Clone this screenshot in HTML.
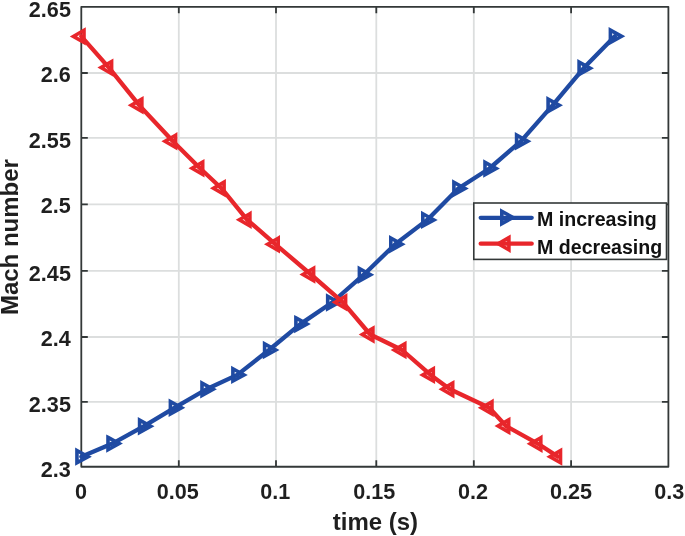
<!DOCTYPE html>
<html><head><meta charset="utf-8"><title>Mach number vs time</title>
<style>html,body{margin:0;padding:0;background:#fff;width:685px;height:536px;overflow:hidden}svg{display:block;will-change:transform}</style>
</head><body>
<svg width="685" height="536" viewBox="0 0 685 536">
<rect x="0" y="0" width="685" height="536" fill="#ffffff"/>
<path d="M178.8 6.8V466.75M276.0 6.8V466.75M376.3 6.8V466.75M473.8 6.8V466.75M571.1 6.8V466.75M81.3 73.0H668.4M81.3 137.9H668.4M81.3 204.4H668.4M81.3 270.8H668.4M81.3 337.0H668.4M81.3 401.9H668.4" stroke="#dcdede" stroke-width="1.8" fill="none"/>
<path d="M178.8 466.75V460.25M178.8 6.8V13.3M276.0 466.75V460.25M276.0 6.8V13.3M376.3 466.75V460.25M376.3 6.8V13.3M473.8 466.75V460.25M473.8 6.8V13.3M571.1 466.75V460.25M571.1 6.8V13.3M81.3 73.0H87.8M668.4 73.0H661.9M81.3 137.9H87.8M668.4 137.9H661.9M81.3 204.4H87.8M668.4 204.4H661.9M81.3 270.8H87.8M668.4 270.8H661.9M81.3 337.0H87.8M668.4 337.0H661.9M81.3 401.9H87.8M668.4 401.9H661.9" stroke="#333838" stroke-width="1.8" fill="none"/>
<rect x="81.3" y="6.8" width="587.1" height="459.95" fill="none" stroke="#333838" stroke-width="1.8" stroke-linejoin="round"/>
<polyline points="81.35,456.65 112.40,443.60 144.00,426.20 174.80,407.70 206.40,389.25 237.30,374.90 269.00,350.00 300.30,324.10 332.10,302.50 363.80,274.70 395.20,244.20 427.20,219.90 458.30,188.50 489.40,168.50 521.00,141.20 552.50,105.30 583.50,68.30 614.80,36.30" fill="none" stroke="#1f4aa2" stroke-width="4.3" stroke-linejoin="round" stroke-linecap="round"/>
<polygon points="76.95,450.50 88.12,456.65 76.95,462.80" fill="none" stroke="#1f4aa2" stroke-width="3.6" stroke-linejoin="miter" stroke-miterlimit="10"/>
<polygon points="108.00,437.45 119.17,443.60 108.00,449.75" fill="none" stroke="#1f4aa2" stroke-width="3.6" stroke-linejoin="miter" stroke-miterlimit="10"/>
<polygon points="139.60,420.05 150.77,426.20 139.60,432.35" fill="none" stroke="#1f4aa2" stroke-width="3.6" stroke-linejoin="miter" stroke-miterlimit="10"/>
<polygon points="170.40,401.55 181.57,407.70 170.40,413.85" fill="none" stroke="#1f4aa2" stroke-width="3.6" stroke-linejoin="miter" stroke-miterlimit="10"/>
<polygon points="202.00,383.10 213.17,389.25 202.00,395.40" fill="none" stroke="#1f4aa2" stroke-width="3.6" stroke-linejoin="miter" stroke-miterlimit="10"/>
<polygon points="232.90,368.75 244.07,374.90 232.90,381.05" fill="none" stroke="#1f4aa2" stroke-width="3.6" stroke-linejoin="miter" stroke-miterlimit="10"/>
<polygon points="264.60,343.85 275.77,350.00 264.60,356.15" fill="none" stroke="#1f4aa2" stroke-width="3.6" stroke-linejoin="miter" stroke-miterlimit="10"/>
<polygon points="295.90,317.95 307.07,324.10 295.90,330.25" fill="none" stroke="#1f4aa2" stroke-width="3.6" stroke-linejoin="miter" stroke-miterlimit="10"/>
<polygon points="327.70,296.35 338.87,302.50 327.70,308.65" fill="none" stroke="#1f4aa2" stroke-width="3.6" stroke-linejoin="miter" stroke-miterlimit="10"/>
<polygon points="359.40,268.55 370.57,274.70 359.40,280.85" fill="none" stroke="#1f4aa2" stroke-width="3.6" stroke-linejoin="miter" stroke-miterlimit="10"/>
<polygon points="390.80,238.05 401.97,244.20 390.80,250.35" fill="none" stroke="#1f4aa2" stroke-width="3.6" stroke-linejoin="miter" stroke-miterlimit="10"/>
<polygon points="422.80,213.75 433.97,219.90 422.80,226.05" fill="none" stroke="#1f4aa2" stroke-width="3.6" stroke-linejoin="miter" stroke-miterlimit="10"/>
<polygon points="453.90,182.35 465.07,188.50 453.90,194.65" fill="none" stroke="#1f4aa2" stroke-width="3.6" stroke-linejoin="miter" stroke-miterlimit="10"/>
<polygon points="485.00,162.35 496.17,168.50 485.00,174.65" fill="none" stroke="#1f4aa2" stroke-width="3.6" stroke-linejoin="miter" stroke-miterlimit="10"/>
<polygon points="516.60,135.05 527.77,141.20 516.60,147.35" fill="none" stroke="#1f4aa2" stroke-width="3.6" stroke-linejoin="miter" stroke-miterlimit="10"/>
<polygon points="548.10,99.15 559.27,105.30 548.10,111.45" fill="none" stroke="#1f4aa2" stroke-width="3.6" stroke-linejoin="miter" stroke-miterlimit="10"/>
<polygon points="579.10,62.15 590.27,68.30 579.10,74.45" fill="none" stroke="#1f4aa2" stroke-width="3.6" stroke-linejoin="miter" stroke-miterlimit="10"/>
<polygon points="610.40,30.15 621.57,36.30 610.40,42.45" fill="none" stroke="#1f4aa2" stroke-width="3.6" stroke-linejoin="miter" stroke-miterlimit="10"/>
<polyline points="81.30,36.40 108.90,67.60 139.15,105.20 172.90,141.30 200.00,168.20 221.40,188.20 247.20,219.80 275.50,244.30 310.90,274.50 342.90,302.30 370.20,334.50 402.10,350.00 430.60,374.90 450.00,389.20 489.25,407.80 506.00,426.00 538.10,443.80 557.80,456.65" fill="none" stroke="#e8262b" stroke-width="4.3" stroke-linejoin="round" stroke-linecap="round"/>
<polygon points="84.00,30.31 73.41,36.40 84.00,42.49" fill="none" stroke="#e8262b" stroke-width="3.6" stroke-linejoin="miter" stroke-miterlimit="10"/>
<polygon points="111.60,61.51 101.01,67.60 111.60,73.69" fill="none" stroke="#e8262b" stroke-width="3.6" stroke-linejoin="miter" stroke-miterlimit="10"/>
<polygon points="141.85,99.11 131.26,105.20 141.85,111.29" fill="none" stroke="#e8262b" stroke-width="3.6" stroke-linejoin="miter" stroke-miterlimit="10"/>
<polygon points="175.60,135.21 165.01,141.30 175.60,147.39" fill="none" stroke="#e8262b" stroke-width="3.6" stroke-linejoin="miter" stroke-miterlimit="10"/>
<polygon points="202.70,162.11 192.11,168.20 202.70,174.29" fill="none" stroke="#e8262b" stroke-width="3.6" stroke-linejoin="miter" stroke-miterlimit="10"/>
<polygon points="224.10,182.11 213.51,188.20 224.10,194.29" fill="none" stroke="#e8262b" stroke-width="3.6" stroke-linejoin="miter" stroke-miterlimit="10"/>
<polygon points="249.90,213.71 239.31,219.80 249.90,225.89" fill="none" stroke="#e8262b" stroke-width="3.6" stroke-linejoin="miter" stroke-miterlimit="10"/>
<polygon points="278.20,238.21 267.61,244.30 278.20,250.39" fill="none" stroke="#e8262b" stroke-width="3.6" stroke-linejoin="miter" stroke-miterlimit="10"/>
<polygon points="313.60,268.41 303.01,274.50 313.60,280.59" fill="none" stroke="#e8262b" stroke-width="3.6" stroke-linejoin="miter" stroke-miterlimit="10"/>
<polygon points="345.60,296.21 335.01,302.30 345.60,308.39" fill="none" stroke="#e8262b" stroke-width="3.6" stroke-linejoin="miter" stroke-miterlimit="10"/>
<polygon points="372.90,328.41 362.31,334.50 372.90,340.59" fill="none" stroke="#e8262b" stroke-width="3.6" stroke-linejoin="miter" stroke-miterlimit="10"/>
<polygon points="404.80,343.91 394.21,350.00 404.80,356.09" fill="none" stroke="#e8262b" stroke-width="3.6" stroke-linejoin="miter" stroke-miterlimit="10"/>
<polygon points="433.30,368.81 422.71,374.90 433.30,380.99" fill="none" stroke="#e8262b" stroke-width="3.6" stroke-linejoin="miter" stroke-miterlimit="10"/>
<polygon points="452.70,383.11 442.11,389.20 452.70,395.29" fill="none" stroke="#e8262b" stroke-width="3.6" stroke-linejoin="miter" stroke-miterlimit="10"/>
<polygon points="491.95,401.71 481.36,407.80 491.95,413.89" fill="none" stroke="#e8262b" stroke-width="3.6" stroke-linejoin="miter" stroke-miterlimit="10"/>
<polygon points="508.70,419.91 498.11,426.00 508.70,432.09" fill="none" stroke="#e8262b" stroke-width="3.6" stroke-linejoin="miter" stroke-miterlimit="10"/>
<polygon points="540.80,437.71 530.21,443.80 540.80,449.89" fill="none" stroke="#e8262b" stroke-width="3.6" stroke-linejoin="miter" stroke-miterlimit="10"/>
<polygon points="560.50,450.56 549.91,456.65 560.50,462.74" fill="none" stroke="#e8262b" stroke-width="3.6" stroke-linejoin="miter" stroke-miterlimit="10"/>
<text x="70.9" y="16.93" text-anchor="end" font-family='"Liberation Sans", sans-serif' font-weight="bold" font-size="21.6" fill="#1f1f1f">2.65</text>
<text x="70.9" y="81.98" text-anchor="end" font-family='"Liberation Sans", sans-serif' font-weight="bold" font-size="21.6" fill="#1f1f1f">2.6</text>
<text x="70.9" y="148.13" text-anchor="end" font-family='"Liberation Sans", sans-serif' font-weight="bold" font-size="21.6" fill="#1f1f1f">2.55</text>
<text x="70.9" y="213.13" text-anchor="end" font-family='"Liberation Sans", sans-serif' font-weight="bold" font-size="21.6" fill="#1f1f1f">2.5</text>
<text x="70.9" y="280.73" text-anchor="end" font-family='"Liberation Sans", sans-serif' font-weight="bold" font-size="21.6" fill="#1f1f1f">2.45</text>
<text x="70.9" y="345.83" text-anchor="end" font-family='"Liberation Sans", sans-serif' font-weight="bold" font-size="21.6" fill="#1f1f1f">2.4</text>
<text x="70.9" y="412.13" text-anchor="end" font-family='"Liberation Sans", sans-serif' font-weight="bold" font-size="21.6" fill="#1f1f1f">2.35</text>
<text x="70.9" y="477.28" text-anchor="end" font-family='"Liberation Sans", sans-serif' font-weight="bold" font-size="21.6" fill="#1f1f1f">2.3</text>
<text x="81.05" y="498.73" text-anchor="middle" font-family='"Liberation Sans", sans-serif' font-weight="bold" font-size="21.6" fill="#1f1f1f">0</text>
<text x="177.7" y="498.73" text-anchor="middle" font-family='"Liberation Sans", sans-serif' font-weight="bold" font-size="21.6" fill="#1f1f1f">0.05</text>
<text x="275.3" y="498.73" text-anchor="middle" font-family='"Liberation Sans", sans-serif' font-weight="bold" font-size="21.6" fill="#1f1f1f">0.1</text>
<text x="374.25" y="498.73" text-anchor="middle" font-family='"Liberation Sans", sans-serif' font-weight="bold" font-size="21.6" fill="#1f1f1f">0.15</text>
<text x="473.0" y="498.73" text-anchor="middle" font-family='"Liberation Sans", sans-serif' font-weight="bold" font-size="21.6" fill="#1f1f1f">0.2</text>
<text x="571.05" y="498.73" text-anchor="middle" font-family='"Liberation Sans", sans-serif' font-weight="bold" font-size="21.6" fill="#1f1f1f">0.25</text>
<text x="669.2" y="498.73" text-anchor="middle" font-family='"Liberation Sans", sans-serif' font-weight="bold" font-size="21.6" fill="#1f1f1f">0.3</text>
<text x="375.4" y="529.5" text-anchor="middle" font-family='"Liberation Sans", sans-serif' font-weight="bold" font-size="24.0" fill="#1f1f1f">time (s)</text>
<text transform="translate(18.3 237.1) rotate(-90)" x="0" y="0" text-anchor="middle" font-family='"Liberation Sans", sans-serif' font-weight="bold" font-size="24.0" fill="#1f1f1f">Mach number</text>
<rect x="473.8" y="203.0" width="192.7" height="56.39999999999998" fill="#ffffff" stroke="#333838" stroke-width="1.6"/>
<line x1="480.7" y1="217.85" x2="531.7" y2="217.85" stroke="#1f4aa2" stroke-width="4.3" stroke-linecap="round"/>
<polygon points="501.80,211.30 512.97,217.45 501.80,223.60" fill="none" stroke="#1f4aa2" stroke-width="3.6" stroke-linejoin="miter" stroke-miterlimit="10"/>
<line x1="480.7" y1="243.7" x2="531.7" y2="243.7" stroke="#e8262b" stroke-width="4.3" stroke-linecap="round"/>
<polygon points="508.90,237.66 498.31,243.75 508.90,249.84" fill="none" stroke="#e8262b" stroke-width="3.6" stroke-linejoin="miter" stroke-miterlimit="10"/>
<text x="537.0" y="225.9" font-family='"Liberation Sans", sans-serif' font-weight="bold" font-size="19.6" fill="#111111">M increasing</text>
<text x="537.0" y="253.8" font-family='"Liberation Sans", sans-serif' font-weight="bold" font-size="19.6" fill="#111111">M decreasing</text>
</svg>
</body></html>
